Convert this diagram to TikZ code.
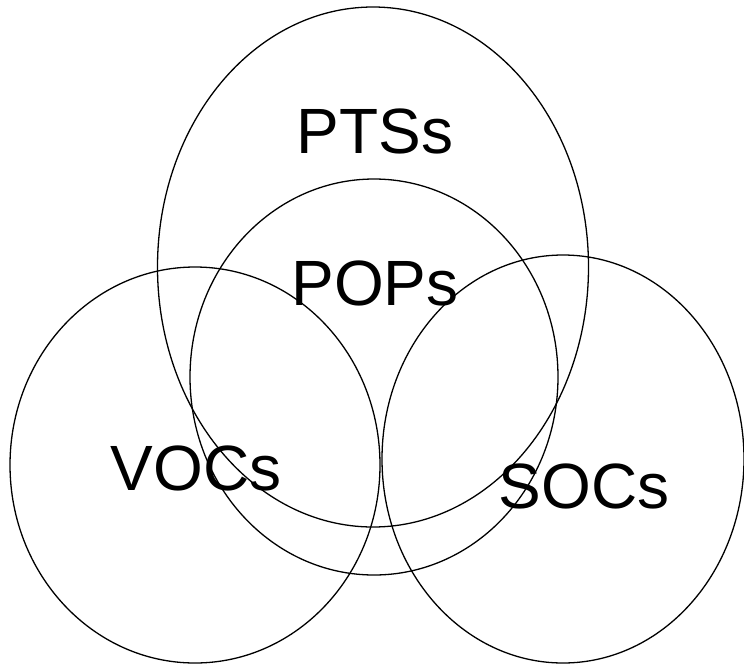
\documentclass[tikz,border=0pt]{standalone}
\usepackage{fontspec}
\setmainfont{Liberation Sans}
\begin{document}
\begin{tikzpicture}[x=1pt,y=-1pt,
  ring/.style={draw=black,line width=1.3pt},
  lbl/.style={anchor=base,inner sep=0pt,font=\fontsize{64}{64}\selectfont}]
\useasboundingbox (0,0) rectangle (744,665);
\draw[ring] (373,267) ellipse [x radius=215.5pt, y radius=260pt];
\draw[ring] (374,377) ellipse [x radius=184pt, y radius=198pt];
\draw[ring] (195,465) ellipse [x radius=185pt, y radius=198pt];
\draw[ring] (563,459) ellipse [x radius=181pt, y radius=204pt];
\node[lbl] (pts) at (375,153) {PTSs};
\node[lbl] (pop) at (375,305) {POPs};
\node[lbl] (voc) at (196,490) {VOCs};
\node[lbl] (soc) at (584,508) {SOCs};
\end{tikzpicture}
\end{document}
